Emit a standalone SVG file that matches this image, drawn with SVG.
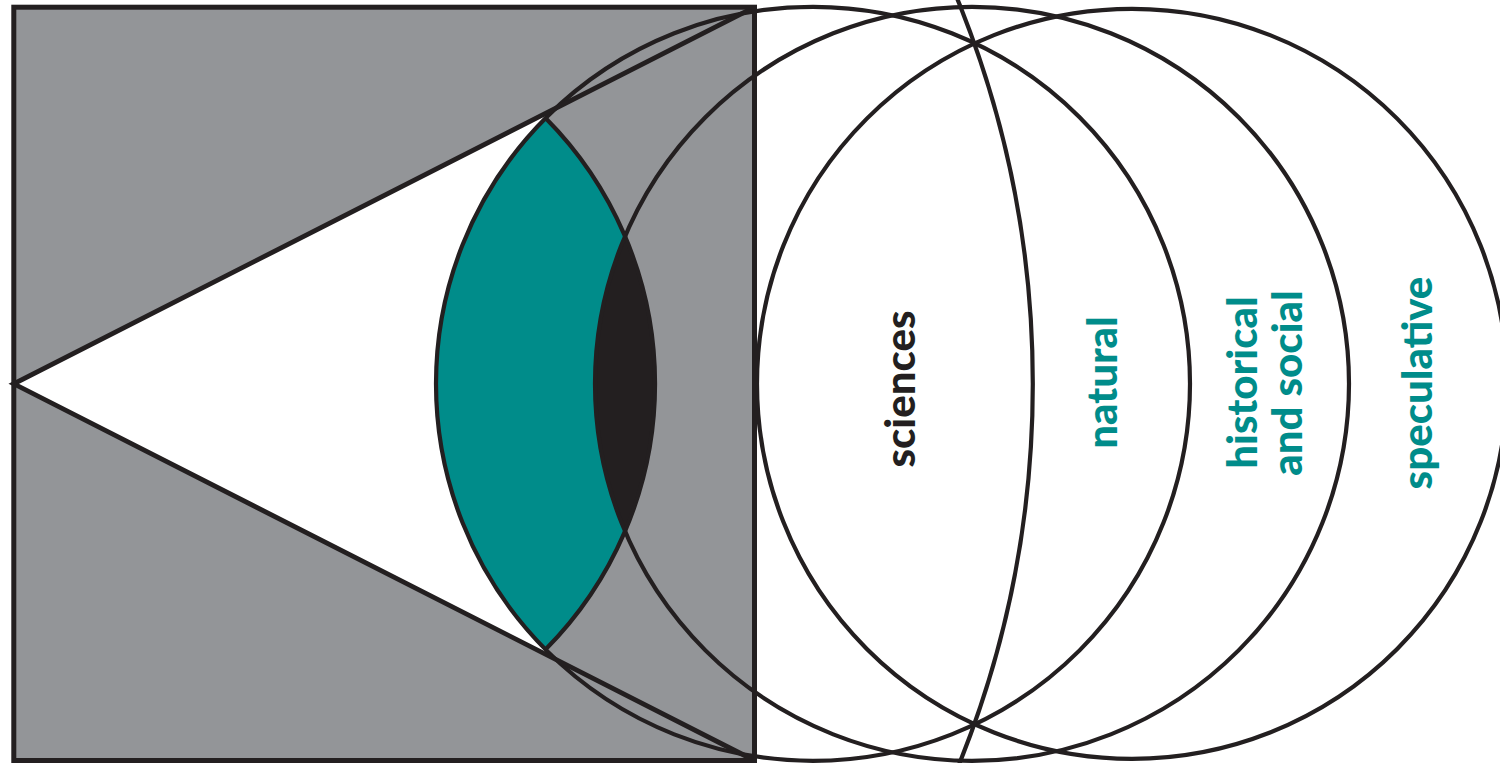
<svg xmlns="http://www.w3.org/2000/svg" width="1500" height="763" viewBox="0 0 1500 763">
  <defs>
    <clipPath id="sq">
      <rect x="13.8" y="7.2" width="740.7" height="753.3"/>
    </clipPath>
  </defs>
  <style>
    .ln { fill: none; stroke: #231f20; stroke-width: 4.2; }
    .tri { fill: none; stroke: #231f20; stroke-width: 4.8; stroke-linejoin: miter; }
    .lbl { font-family: Lato, "Liberation Sans", sans-serif; font-weight: 900; font-size: 42px; text-anchor: middle; }
    .teal { fill: #008c8a; }
    .dark { fill: #231f20; }
  </style>
  <rect x="0" y="0" width="1500" height="763" fill="#ffffff"/>
  <g id="square-fill">
    <rect x="13.8" y="7.2" width="740.7" height="753.3" fill="#939598"/>
  </g>
  <g id="triangle-fill">
    <polygon points="13.8,383.8 754.5,7.2 754.5,760.5" fill="#ffffff"/>
    <circle cx="813" cy="383.8" r="377" fill="#939598" clip-path="url(#sq)"/>
  </g>
  <g id="lens-teal">
    <path d="M545.5 118.1 A377 377 0 0 0 545.5 649.5 A377 377 0 0 0 545.5 118.1 Z" fill="#008c8a"/>
  </g>
  <g id="lens-black">
    <path d="M625 236.4 A377 377 0 0 0 625 531.2 A377 377 0 0 0 625 236.4 Z" fill="#231f20"/>
  </g>
  <g id="connectors">
    <circle class="ln" cx="813" cy="383.8" r="377"/>
    <circle class="ln" cx="972" cy="383.8" r="377"/>
    <circle class="ln" cx="1132" cy="383.8" r="375"/>
    <path class="ln" d="M545.5 118.1 A377 377 0 0 1 545.5 649.5"/>
    <circle class="ln" cx="13.8" cy="383.8" r="1019"/>
    <polyline class="tri" points="754.5,7.2 13.8,383.8 754.5,760.5"/>
  </g>
  <g id="square-border">
    <rect x="13.8" y="7.2" width="740.7" height="753.3" fill="none" stroke="#231f20" stroke-width="5"/>
  </g>
  <g id="label-sciences">
    <text class="lbl dark" transform="translate(915,389) rotate(-90)">sciences</text>
  </g>
  <g id="label-natural">
    <text class="lbl teal" transform="translate(1117,382.5) rotate(-90)">natural</text>
  </g>
  <g id="label-historical">
    <text class="lbl teal" transform="translate(1257,382.5) rotate(-90)">historical</text>
    <text class="lbl teal" transform="translate(1302,383) rotate(-90)">and social</text>
  </g>
  <g id="label-speculative">
    <text class="lbl teal" transform="translate(1432,383) rotate(-90)">speculative</text>
  </g>
</svg>
